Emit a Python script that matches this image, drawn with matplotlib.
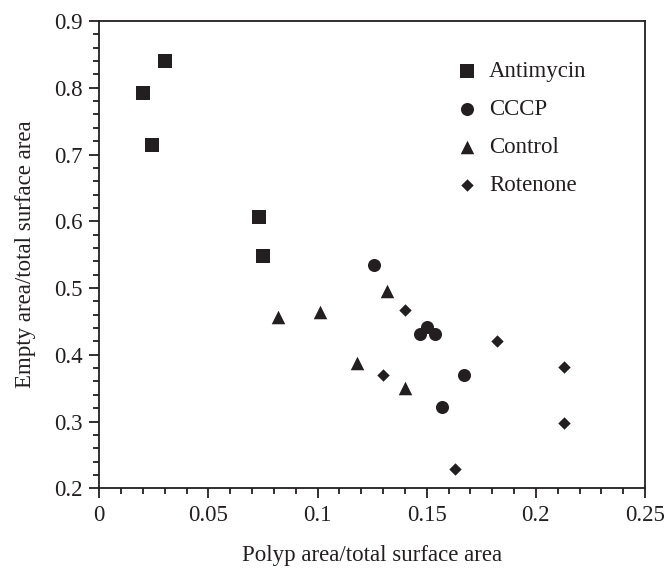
import numpy as np
import matplotlib
matplotlib.use("Agg")
import matplotlib.pyplot as plt
from matplotlib.ticker import MultipleLocator

plt.rcParams["font.family"] = ["Liberation Serif", "DejaVu Serif"]

# data
antimycin_x = [0.020, 0.030, 0.024, 0.073, 0.075]
antimycin_y = [0.792, 0.840, 0.715, 0.607, 0.548]

cccp_x = [0.126, 0.147, 0.150, 0.154, 0.167, 0.157]
cccp_y = [0.535, 0.431, 0.442, 0.431, 0.369, 0.322]

control_x = [0.082, 0.101, 0.132, 0.118, 0.140]
control_y = [0.456, 0.464, 0.496, 0.388, 0.350]

rotenone_x = [0.140, 0.130, 0.182, 0.213, 0.213, 0.163]
rotenone_y = [0.467, 0.369, 0.421, 0.382, 0.298, 0.229]

x_ticks = [0, 0.05, 0.1, 0.15, 0.2, 0.25]
x_tick_labels = ["0", "0.05", "0.1", "0.15", "0.2", "0.25"]
y_ticks = [0.2, 0.3, 0.4, 0.5, 0.6, 0.7, 0.8, 0.9]
y_tick_labels = ["0.2", "0.3", "0.4", "0.5", "0.6", "0.7", "0.8", "0.9"]

ink = "#231f20"
fs = 16.5

fig = plt.figure(figsize=(6.7, 5.69), dpi=100)
ax = fig.add_axes([0.1482, 0.1418, 0.8145, 0.8213])

ax.scatter(antimycin_x, antimycin_y, marker="s", s=88, color=ink, lw=0, label="Antimycin")
ax.scatter(cccp_x, cccp_y, marker="o", s=88, color=ink, lw=0, label="CCCP")
ax.scatter(control_x, control_y, marker="^", s=95, color=ink, lw=0, label="Control")
ax.scatter(rotenone_x, rotenone_y, marker="D", s=40, color=ink, lw=0, label="Rotenone")

ax.set_xlim(0, 0.25)
ax.set_ylim(0.2, 0.9)
ax.set_xticks(x_ticks)
ax.set_xticklabels(x_tick_labels)
ax.set_yticks(y_ticks)
ax.set_yticklabels(y_tick_labels)
ax.xaxis.set_minor_locator(MultipleLocator(0.01))
ax.yaxis.set_minor_locator(MultipleLocator(0.02))
ax.tick_params(which="both", direction="out", top=False, right=False,
               color=ink, labelsize=fs, labelcolor=ink, width=1.3)
ax.tick_params(which="major", length=7, pad=5)
ax.tick_params(which="minor", length=4)
for sp in ax.spines.values():
    sp.set_color(ink)
    sp.set_linewidth(1.3)

ax.set_xlabel("Polyp area/total surface area", fontsize=fs, color=ink, labelpad=14)
ax.set_ylabel("Empty area/total surface area", fontsize=fs, color=ink, labelpad=13)

ax.legend(loc="upper left", bbox_to_anchor=(0.653, 0.915), frameon=False,
          fontsize=fs, borderpad=0, borderaxespad=0, handlelength=1.0,
          handletextpad=0.46, labelspacing=0.74, labelcolor=ink)

fig.savefig("out.png", dpi=100)
